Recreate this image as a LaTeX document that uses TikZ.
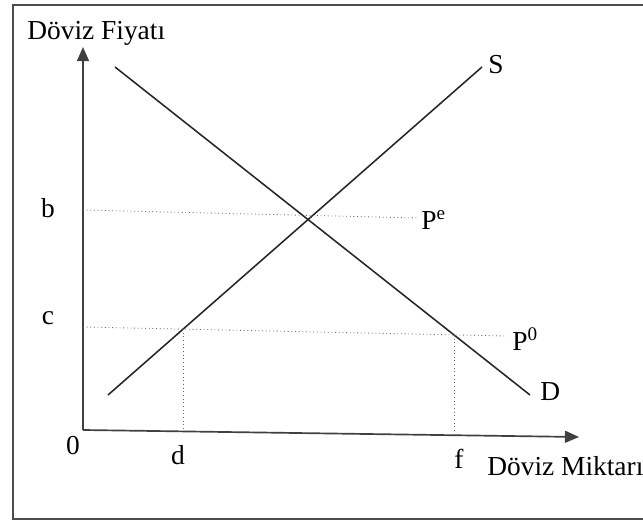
\documentclass[tikz,border=0pt]{standalone}
\usepackage{fontspec}
\setmainfont{Liberation Serif}
\usetikzlibrary{arrows.meta, positioning}

\begin{document}
\begin{tikzpicture}[
    x=0.025cm, y=-0.025cm,
    axis/.style={-{Triangle[length=10pt,width=8.5pt]}, line width=1.2pt, draw=black!75},
    curve/.style={line width=1.1pt, draw=black!85},
    guide/.style={dotted, line width=0.6pt, draw=black!60},
    lbl/.style={inner sep=0pt, font=\fontsize{19.5}{23}\selectfont},
]
\useasboundingbox (0,0) rectangle (643,523);
\clip (0,0) rectangle (643,523);

% frame
\draw[line width=1.4pt, draw=black!70] (13,5) rectangle (670,519);

% axes
\coordinate (o) at (83,430);
\coordinate (ytip) at (83,47);
\coordinate (xtip) at (579,437);
\draw[axis] (o) -- (ytip);
\draw[axis] (o) -- (xtip);

% supply and demand
\coordinate (s0) at (108,395);
\coordinate (s1) at (482,67);
\coordinate (d0) at (115,67);
\coordinate (d1) at (530,395);
\draw[curve] (s0) -- (s1);
\draw[curve] (d0) -- (d1);

% labels
\node[lbl, anchor=west] (yname) at (27,33) {Döviz Fiyatı};
\node[lbl] (bl) at (48,208) {b};
\node[lbl] (cl) at (48,318) {c};
\node[lbl] (zero) at (73,446) {0};
\node[lbl] (dl) at (178,455) {d};
\node[lbl] (fl) at (459,459) {f};
\node[lbl, anchor=west] (xname) at (487,466) {Döviz Miktarı};
\node[lbl, anchor=west] (pe) at (421,220) {P\textsuperscript{e}};
\node[lbl, anchor=west] (p0) at (512,339) {P\textsuperscript{0}};
\node[lbl, anchor=west] (sl) at (488,65) {S};
\node[lbl, anchor=west] (dlab) at (540,392) {D};

% price levels
\coordinate (b0) at (83,210);
\coordinate (b1) at (417,218);
\coordinate (c0) at (83,327);
\coordinate (c1) at (506,336);
\draw[guide] (b0) -- (b1);
\draw[guide] (c0) -- (c1);

% quantities
\coordinate (dq) at (intersection of s0--s1 and c0--c1);
\coordinate (fq) at (intersection of d0--d1 and c0--c1);
\coordinate (dq0) at (dq |- o);
\coordinate (fq0) at ([yshift=-5]fq |- o);
\draw[guide] (dq) -- (dq0);
\draw[guide] (fq) -- (fq0);

\end{tikzpicture}
\end{document}
